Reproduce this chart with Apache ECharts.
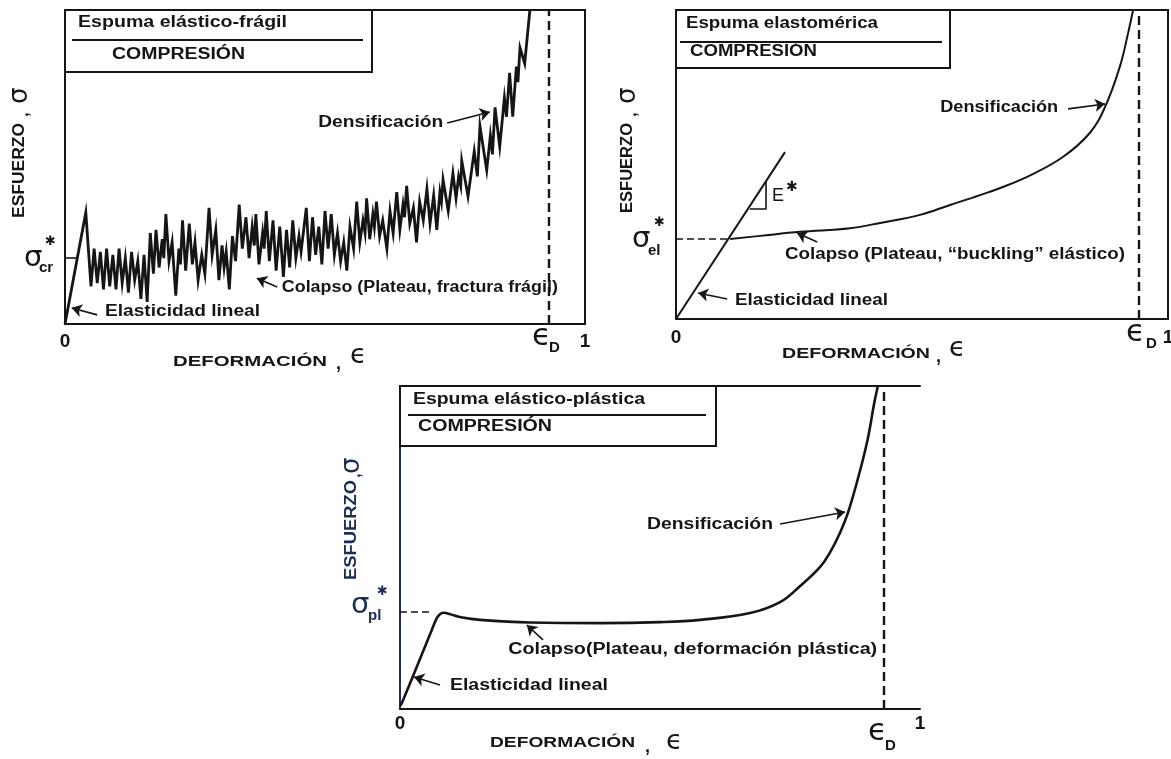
<!DOCTYPE html>
<html>
<head>
<meta charset="utf-8">
<script src="https://cdn.jsdelivr.net/npm/echarts@6/dist/echarts.min.js"></script>
<style>
  html, body { margin: 0; padding: 0; background: #ffffff; }
  #chart { width: 1171px; height: 759px; }
</style>
</head>
<body>
<div id="chart"></div>
<script>
// ---------- Espuma elástico-frágil: deformación (0–1) vs esfuerzo (0–100) ----------
const brittleStrain = [
  0, 0.040, 0.050, 0.056, 0.062, 0.068, 0.074, 0.080, 0.086, 0.092, 0.098, 0.104, 0.110, 0.116, 0.122,
  0.128, 0.134, 0.140, 0.146, 0.152, 0.158, 0.164, 0.170, 0.175, 0.181, 0.187, 0.190, 0.194, 0.200,
  0.206, 0.213, 0.219, 0.222, 0.226, 0.232, 0.239, 0.245, 0.250, 0.256, 0.263, 0.269, 0.277, 0.283,
  0.290, 0.296, 0.302, 0.306, 0.310, 0.316, 0.322, 0.328, 0.335, 0.341, 0.348, 0.354, 0.360, 0.364,
  0.367, 0.373, 0.380, 0.383, 0.387, 0.393, 0.400, 0.406, 0.413, 0.420, 0.426, 0.432, 0.438, 0.444,
  0.450, 0.454, 0.464, 0.470, 0.476, 0.482, 0.488, 0.494, 0.500, 0.506, 0.512, 0.518, 0.524, 0.530,
  0.536, 0.542, 0.548, 0.555, 0.561, 0.567, 0.573, 0.577, 0.580, 0.586, 0.592, 0.595, 0.599, 0.605,
  0.611, 0.619, 0.625, 0.631, 0.638, 0.644, 0.650, 0.653, 0.657, 0.663, 0.670, 0.676, 0.682, 0.689,
  0.696, 0.702, 0.709, 0.715, 0.721, 0.724, 0.727, 0.737, 0.746, 0.752, 0.757, 0.761, 0.763, 0.775,
  0.787, 0.793, 0.798, 0.811, 0.818, 0.822, 0.827, 0.836, 0.845, 0.849, 0.855, 0.861, 0.868, 0.871,
  0.875, 0.884, 0.894
];
const brittleStress = [
  0, 35.5, 12, 24, 13, 23, 11, 24, 12, 22, 11, 24, 13, 21, 10,
  23, 14, 20, 8, 22, 7, 29, 16, 30, 18, 27, 21, 35, 20,
  26, 9, 24, 19, 33, 17, 32, 19, 26, 14, 22, 16, 37, 22,
  30, 14, 25, 18, 23, 11, 28, 20, 38, 24, 34, 21, 31, 25,
  35, 19, 29, 24, 36, 20, 33, 17, 31, 15, 30, 18, 33, 21,
  28, 23, 37, 20, 34, 22, 31, 19, 36, 24, 35, 22, 29, 20,
  26, 17, 31, 24, 39, 26, 33, 29, 40, 27, 35, 31, 39, 28,
  33, 24, 36, 29, 42, 30, 38, 34, 44, 32, 37, 26, 39, 33,
  43, 32, 41, 30, 42, 39, 46, 36, 48, 40, 47, 44, 52, 40.6,
  55, 47, 63, 49, 60, 54, 69, 56.5, 72, 66, 80, 66, 82, 77,
  88, 83, 100
];
const brittleCrushStress = 21;      // σ*cr
const brittleCrushMarkEnd = 0.024;
const brittleDensification = 0.927; // εD

// ---------- Espuma elastomérica ----------
const elastoLinearStrain = [0, 0.2215];
const elastoLinearStress = [0, 54];
const elastoPlateauStrain = [0.11, 0.171, 0.252, 0.354, 0.415, 0.496, 0.557, 0.618, 0.659, 0.72, 0.787, 0.841, 0.872, 0.902, 0.919, 0.929];
const elastoPlateauStress = [25.9, 26.9, 28.2, 29.4, 31.1, 33.7, 36.9, 40.1, 42.4, 46.5, 52.5, 60.2, 68.6, 81.6, 92.6, 100];
const elastoSlopeStrain = [0.150, 0.183, 0.183];
const elastoSlopeStress = [35.6, 35.6, 44.3];
const elastoYieldStress = 25.9;     // σ*el
const elastoYieldMarkEnd = 0.105;
const elastoDensification = 0.937;

// ---------- Espuma elástico-plástica ----------
const plasticStrain = [0, 0.004, 0.060, 0.071, 0.078, 0.085, 0.095, 0.12, 0.154, 0.25, 0.385, 0.5, 0.577, 0.673, 0.731, 0.769, 0.808, 0.827, 0.846, 0.862, 0.885, 0.9, 0.912, 0.919];
const plasticStress = [1, 2, 24, 28.2, 29.5, 29.8, 29.4, 28.3, 27.6, 26.8, 26.6, 26.9, 27.6, 29.7, 33.1, 38, 44, 48.5, 54.5, 61, 74, 84, 94.7, 100];
const plasticYieldStress = 30;      // σ*pl
const plasticYieldMarkEnd = 0.063;
const plasticDensification = 0.933;

// Arrows for the region notes, [from, to] in (deformación, esfuerzo)
const brittleArrows = [
  [[0.735, 64], [0.817, 67.5]],
  [[0.408, 11.8], [0.369, 14.6]],
  [[0.062, 2.9], [0.013, 5.1]]
];
const elastoArrows = [
  [[0.797, 68], [0.872, 69.6]],
  [[0.287, 24.9], [0.246, 27.8]],
  [[0.104, 6.5], [0.045, 8.4]]
];
const plasticArrows = [
  [[0.731, 57.3], [0.856, 61]],
  [[0.275, 21.4], [0.244, 26]],
  [[0.077, 7.4], [0.027, 9.9]]
];

const INK = '#151515';
const NAVY = '#1d2b56';
const SANS = '"Liberation Sans", Arial, Helvetica, sans-serif';
const GREEK = '"DejaVu Sans", sans-serif';

const zip = (xs, ys) => xs.map((x, i) => [x, ys[i]]);

const chart = echarts.init(document.getElementById('chart'), null, { renderer: 'canvas' });

const grids = [
  { left: 65, top: 10, width: 520, height: 314, show: true, borderColor: INK, borderWidth: 2, outerBoundsMode: 'none' },
  { left: 676, top: 10, width: 492, height: 309, show: true, borderColor: INK, borderWidth: 2, outerBoundsMode: 'none' },
  { left: 400, top: 386, width: 520, height: 323, show: false, outerBoundsMode: 'none' }
];

function strainAxis(gridIndex, margin) {
  return {
    gridIndex, type: 'value', min: 0, max: 1, interval: 1,
    axisLine: { show: true, onZero: false, lineStyle: { color: INK, width: 2 } },
    axisTick: { show: false }, splitLine: { show: false },
    axisLabel: {
      show: true, margin, fontSize: 19, fontWeight: 'bold', fontFamily: SANS, color: INK,
      showMinLabel: true, showMaxLabel: true, formatter: v => String(v)
    }
  };
}
function stressAxis(gridIndex, color) {
  return {
    gridIndex, type: 'value', min: 0, max: 100,
    axisLine: { show: true, onZero: false, lineStyle: { color, width: 2 } },
    axisTick: { show: false }, axisLabel: { show: false }, splitLine: { show: false }
  };
}

function arrowItems(list) {
  return list.map(([a, b]) => [
    { coord: a, symbol: 'none', lineStyle: { type: 'solid', width: 1.6, color: INK } },
    { coord: b, symbol: 'arrow', symbolSize: 10, lineStyle: { type: 'solid', width: 1.6, color: INK } }
  ]);
}
function densLine(v) {
  return { xAxis: v, lineStyle: { type: [9, 5], width: 2.4, color: INK } };
}
function shortMark(y, xEnd, dashed) {
  const ls = { type: dashed ? [7, 4] : 'solid', width: 1.6, color: INK };
  return [{ coord: [0, y], symbol: 'none', lineStyle: ls }, { coord: [xEnd, y], symbol: 'none', lineStyle: ls }];
}
const markBase = { silent: true, symbol: 'none', label: { show: false }, animation: false, emphasis: { disabled: true } };

const option = {
  backgroundColor: '#ffffff',
  animation: false,
  grid: grids,
  xAxis: [
    strainAxis(0, 8),
    strainAxis(1, 9),
    strainAxis(2, 5),
    { gridIndex: 2, type: 'value', min: 0, max: 1, position: 'top',
      axisLine: { show: true, onZero: false, lineStyle: { color: INK, width: 2 } },
      axisTick: { show: false }, axisLabel: { show: false }, splitLine: { show: false } }
  ],
  yAxis: [stressAxis(0, INK), stressAxis(1, INK), stressAxis(2, NAVY)],
  series: [
    {
      type: 'line', xAxisIndex: 0, yAxisIndex: 0, data: zip(brittleStrain, brittleStress),
      showSymbol: false, symbol: 'none', clip: true, z: 3,
      lineStyle: { color: INK, width: 2.8, join: 'miter' },
      markLine: Object.assign({}, markBase, {
        data: [densLine(brittleDensification), shortMark(brittleCrushStress, brittleCrushMarkEnd, false)]
          .concat(arrowItems(brittleArrows))
      })
    },
    {
      type: 'line', xAxisIndex: 1, yAxisIndex: 1, data: zip(elastoLinearStrain, elastoLinearStress),
      showSymbol: false, symbol: 'none', lineStyle: { color: INK, width: 2 }
    },
    {
      type: 'line', xAxisIndex: 1, yAxisIndex: 1, data: zip(elastoPlateauStrain, elastoPlateauStress),
      showSymbol: false, symbol: 'none', smooth: 0.4, clip: true,
      lineStyle: { color: INK, width: 2 },
      markLine: Object.assign({}, markBase, {
        data: [densLine(elastoDensification), shortMark(elastoYieldStress, elastoYieldMarkEnd, true)]
          .concat(arrowItems(elastoArrows))
      })
    },
    {
      type: 'line', xAxisIndex: 1, yAxisIndex: 1, data: zip(elastoSlopeStrain, elastoSlopeStress),
      showSymbol: false, symbol: 'none', lineStyle: { color: INK, width: 1.6 }
    },
    {
      type: 'line', xAxisIndex: 2, yAxisIndex: 2, data: zip(plasticStrain, plasticStress),
      showSymbol: false, symbol: 'none', smooth: 0.4, clip: true,
      lineStyle: { color: INK, width: 2.6 },
      markLine: Object.assign({}, markBase, {
        data: [densLine(plasticDensification), shortMark(plasticYieldStress, plasticYieldMarkEnd, true)]
          .concat(arrowItems(plasticArrows))
      })
    }
  ]
};

chart.setOption(option);

// ---- text and frame decorations ----
const measureCtx = document.createElement('canvas').getContext('2d');
function naturalWidth(str, size, weight, family) {
  measureCtx.font = weight + ' ' + size + 'px ' + family;
  return measureCtx.measureText(str).width;
}
function label(str, x, y, o) {
  o = o || {};
  const size = o.size || 15, weight = o.weight || 'bold', family = o.family || SANS;
  const sx = o.width ? o.width / naturalWidth(str, size, weight, family) : 1;
  return {
    type: 'text', x, y, rotation: o.rotation || 0, scaleX: sx, silent: true, z: 100,
    style: { text: str, fontSize: size, fontWeight: weight, fontFamily: family,
             fill: o.color || INK, align: 'left', verticalAlign: 'middle' }
  };
}
const toPx = (g, p) => chart.convertToPixel({ gridIndex: g }, p);

const panels = [
  { box: [65, 10, 307, 62], rule: [72, 40, 363], title: 'Espuma elástico-frágil', titleAt: [78, 23, 209],
    comp: [112, 55, 133], yl: { x: 20, base: 218, w: 95, comma: 117, sigma: 104 }, ycol: INK,
    sig: { s: [24, 258], sub: 'cr', subAt: [39, 268], star: [45, 242] },
    ed: { e: [532, 337], d: [549, 348] },
    xl: { at: [173, 362, 154], comma: [336, 364], eps: [350, 356] } },
  { box: [676, 10, 274, 58], rule: [680, 42, 942], title: 'Espuma elastomérica', titleAt: [686, 24, 192],
    comp: [690, 52, 127], yl: { x: 628, base: 213, w: 90, comma: 117, sigma: 104 }, ycol: INK,
    sig: { s: [632, 239], sub: 'el', subAt: [648, 251], star: [654, 223] },
    ed: { e: [1126, 333], d: [1146, 344] },
    xl: { at: [782, 354, 148], comma: [936, 357], eps: [949, 349] } },
  { box: [400, 386, 316, 60], rule: [408, 415, 706], title: 'Espuma elástico-plástica', titleAt: [413, 400, 232],
    comp: [418, 427, 134], yl: { x: 352, base: 580, w: 100, comma: 478, sigma: 474 }, ycol: NAVY,
    sig: { s: [351, 605], sub: 'pl', subAt: [368, 616], star: [377, 592] },
    ed: { e: [868, 732], d: [885, 746] },
    xl: { at: [490, 743, 145], comma: [645, 747], eps: [666, 742] } }
];

const els = [];
panels.forEach(p => {
  els.push({ type: 'rect', silent: true, z: 90,
    shape: { x: p.box[0], y: p.box[1], width: p.box[2], height: p.box[3] },
    style: { fill: 'none', stroke: INK, lineWidth: 2 } });
  els.push({ type: 'line', silent: true, z: 90,
    shape: { x1: p.rule[0], y1: p.rule[1], x2: p.rule[2], y2: p.rule[1] },
    style: { stroke: INK, lineWidth: 1.8 } });
  els.push(label(p.title, p.titleAt[0], p.titleAt[1], { size: 16, width: p.titleAt[2] }));
  els.push(label('COMPRESIÓN', p.comp[0], p.comp[1], { size: 16, width: p.comp[2] }));
  // vertical stress label, reading upwards
  els.push(label('ESFUERZO', p.yl.x, p.yl.base, { size: 16, width: p.yl.w, rotation: Math.PI / 2, color: p.ycol }));
  els.push(label(',', p.yl.x + 3, p.yl.comma, { size: 17, rotation: Math.PI / 2, color: p.ycol }));
  els.push(label('σ', p.yl.x, p.yl.sigma, { size: 26, weight: 'normal', family: GREEK, rotation: Math.PI / 2, color: p.ycol }));
  // σ* marker on the stress axis
  els.push(label('σ', p.sig.s[0], p.sig.s[1], { size: 29, weight: 'normal', family: GREEK, color: p.ycol }));
  els.push(label(p.sig.sub, p.sig.subAt[0], p.sig.subAt[1], { size: 15, color: p.ycol }));
  els.push(label('✱', p.sig.star[0], p.sig.star[1], { size: 13, weight: 'normal', family: GREEK, color: p.ycol }));
  // εD marker
  els.push(label('ϵ', p.ed.e[0], p.ed.e[1], { size: 31, weight: 'normal', family: GREEK }));
  els.push(label('D', p.ed.d[0], p.ed.d[1], { size: 15 }));
  // strain axis title
  els.push(label('DEFORMACIÓN', p.xl.at[0], p.xl.at[1], { size: 14, width: p.xl.at[2] }));
  els.push(label(',', p.xl.comma[0], p.xl.comma[1], { size: 18 }));
  els.push(label('ϵ', p.xl.eps[0], p.xl.eps[1], { size: 27, weight: 'normal', family: GREEK }));
});

// notes inside the plots, anchored in data coordinates
const notes = [
  { g: 0, text: 'Densificación', at: [0.487, 64], w: 125 },
  { g: 0, text: 'Colapso (Plateau, fractura frágil)', at: [0.417, 11.5], w: 276 },
  { g: 0, text: 'Elasticidad lineal', at: [0.077, 3.8], w: 155 },
  { g: 1, text: 'Densificación', at: [0.537, 68.3], w: 118 },
  { g: 1, text: 'Colapso (Plateau, “buckling” elástico)', at: [0.2215, 20.7], w: 340 },
  { g: 1, text: 'Elasticidad lineal', at: [0.12, 6.1], w: 153 },
  { g: 1, text: 'E', at: [0.195, 39.8], size: 18, weight: 'normal' },
  { g: 1, text: '✱', at: [0.2236, 42.6], size: 14, weight: 'normal', family: GREEK },
  { g: 2, text: 'Densificación', at: [0.475, 57], w: 126 },
  { g: 2, text: 'Colapso(Plateau, deformación plástica)', at: [0.208, 18.3], w: 369 },
  { g: 2, text: 'Elasticidad lineal', at: [0.096, 7.4], w: 158 }
];
notes.forEach(n => {
  const p = toPx(n.g, n.at);
  els.push(label(n.text, p[0], p[1], { size: n.size || 16, width: n.w, weight: n.weight, family: n.family }));
});

chart.setOption({ graphic: els });
</script>
</body>
</html>
